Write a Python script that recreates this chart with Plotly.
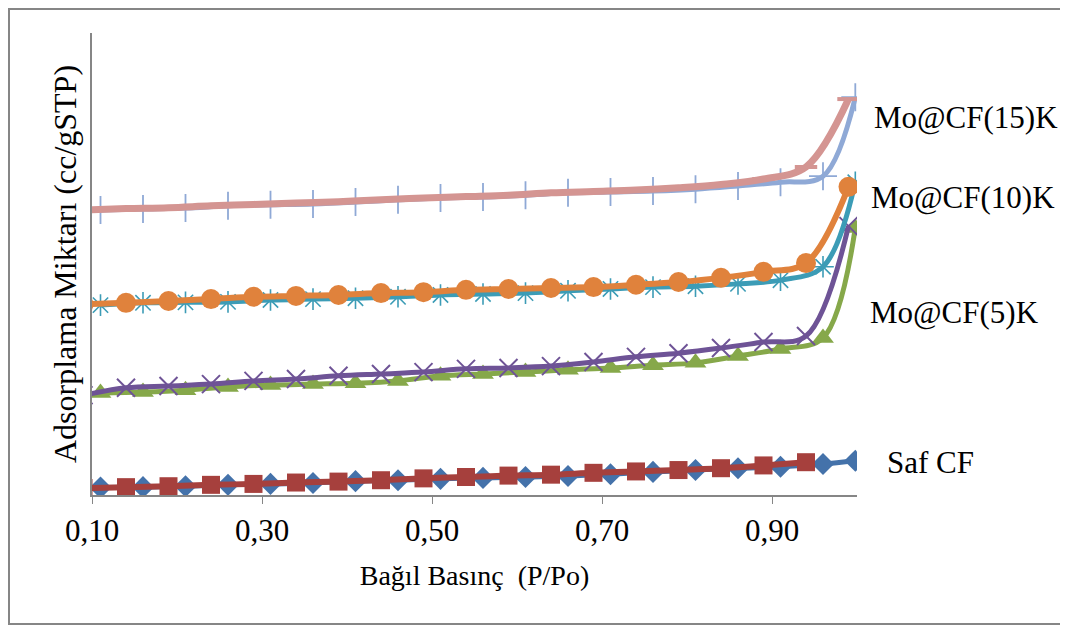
import plotly.graph_objects as go

# Relative pressure (P/Po) points
x_ads = [0.11, 0.16, 0.21, 0.26, 0.31, 0.36, 0.41, 0.46, 0.51, 0.56, 0.61,
         0.66, 0.71, 0.76, 0.81, 0.86, 0.91, 0.96, 0.998]
x_des = [0.09, 0.14, 0.19, 0.24, 0.29, 0.34, 0.39, 0.44, 0.49, 0.54, 0.59,
         0.64, 0.69, 0.74, 0.79, 0.84, 0.89, 0.94, 0.99]
x_des_saf = [0.09, 0.14, 0.19, 0.24, 0.29, 0.34, 0.39, 0.44, 0.49, 0.54, 0.59,
             0.64, 0.69, 0.74, 0.79, 0.84, 0.89, 0.94]

# Adsorbed amounts (arbitrary units)
saf_ads = [1.6, 1.7, 1.9, 2.2, 2.4, 2.6, 3.0, 3.2, 3.5, 3.7, 3.9, 4.1, 4.5,
           5.0, 5.4, 5.8, 6.1, 6.7, 7.4]
saf_des = [1.5, 1.7, 1.9, 2.2, 2.4, 2.7, 2.9, 3.2, 3.6, 3.9, 4.2, 4.4, 4.8,
           5.1, 5.4, 5.8, 6.4, 7.1]
k5_ads = [22.1, 22.3, 22.7, 23.4, 23.8, 24.0, 24.2, 24.7, 25.8, 26.2, 26.6,
          27.1, 27.5, 28.1, 28.6, 30.1, 31.6, 34.0, 57.8]
k5_des = [21.6, 23.2, 23.6, 24.0, 24.7, 25.1, 25.8, 26.2, 26.6, 27.3, 27.5,
          27.9, 28.8, 29.9, 30.7, 31.8, 33.1, 34.4, 58.2]
k10_ads = [41.1, 41.6, 41.7, 41.8, 42.2, 42.4, 42.6, 42.9, 43.3, 43.5, 43.7,
           44.2, 44.6, 45.0, 45.2, 45.7, 46.5, 49.4, 67.7]
k10_des = [41.3, 41.6, 42.0, 42.4, 42.9, 43.1, 43.3, 43.7, 43.9, 44.4, 44.6,
           44.8, 45.0, 45.5, 46.1, 47.0, 48.3, 50.2, 66.7]
k15_ads = [61.7, 61.9, 62.1, 62.6, 62.8, 63.0, 63.4, 63.9, 64.3, 64.5, 64.9,
           65.4, 65.6, 65.8, 66.2, 66.9, 67.7, 69.0, 86.1]
k15_des = [61.7, 62.0, 62.2, 62.6, 62.9, 63.2, 63.5, 63.9, 64.3, 64.6, 64.9,
           65.4, 65.7, 66.0, 66.5, 67.2, 68.4, 71.0, 85.7]

tick_vals = [0.1, 0.3, 0.5, 0.7, 0.9]
tick_text = ["0,10", "0,30", "0,50", "0,70", "0,90"]
series_labels = ["Mo@CF(15)K", "Mo@CF(10)K", "Mo@CF(5)K", "Saf CF"]
label_y = [0.818, 0.645, 0.396, 0.071]
label_x = [1.019, 1.0163, 1.015, 1.036]

FONT = "Liberation Serif, Times New Roman, serif"

traces = [
    (x_ads, saf_ads, "#4472AA", "diamond", 17, 0, 5),
    (x_des_saf, saf_des, "#A6403D", "square", 18, 0, 6),
    (x_ads, k5_ads, "#86A84A", "triangle-up", 19, 0, 5),
    (x_des, k5_des, "#6E5396", "x-thin", 18, 2, 5),
    (x_ads, k10_ads, "#3C9CB6", "asterisk", 18, 1.6, 5),
    (x_des, k10_des, "#E0823C", "circle", 20, 0, 6),
    (x_ads, k15_ads, "#8FA9D6", "cross-thin", 20, 1.8, 5),
    (x_des, k15_des, "#D49592", "line-ew", 16, 4, 7),
]

fig = go.Figure()
for xs, ys, col, sym, size, mlw, lw in traces:
    fig.add_trace(go.Scatter(
        x=xs, y=ys, mode="lines+markers",
        line=dict(color=col, width=lw, shape="spline", smoothing=1),
        marker=dict(symbol=sym, size=size, color=col,
                    line=dict(color=col, width=mlw)),
        showlegend=False, cliponaxis=True,
    ))

for txt, lx, ly in zip(series_labels, label_x, label_y):
    fig.add_annotation(text=txt, xref="paper", yref="paper", x=lx, y=ly,
                       xanchor="left", yanchor="middle", showarrow=False,
                       font=dict(family=FONT, size=31, color="black"))

# outer chart border
fig.add_shape(type="rect", xref="paper", yref="paper",
              x0=-0.1085, x1=1.40, y0=-0.2792, y1=1.0519,
              line=dict(color="#868686", width=2), layer="below")

fig.update_layout(
    width=1060, height=618,
    margin=dict(l=84, r=211, t=25, b=131),
    paper_bgcolor="white", plot_bgcolor="white",
    font=dict(family=FONT, size=30, color="black"),
    xaxis=dict(range=[0.1, 1.0], tickvals=tick_vals, ticktext=tick_text,
               showline=True, linecolor="#868686", linewidth=1.5,
               ticks="outside", ticklen=7, tickcolor="#868686",
               showgrid=False, zeroline=False, automargin=False,
               tickfont=dict(family=FONT, size=31),
               title=dict(text="Bağıl Basınç  (P/Po)",
                          font=dict(family=FONT, size=28), standoff=18)),
    yaxis=dict(range=[0, 100], showline=True, linecolor="#868686",
               linewidth=1.5, showticklabels=False, ticks="",
               showgrid=False, zeroline=False, automargin=False,
               title=dict(text="Adsorplama Miktarı (cc/gSTP)",
                          font=dict(family=FONT, size=32), standoff=4)),
)

fig.write_html("out.html")
